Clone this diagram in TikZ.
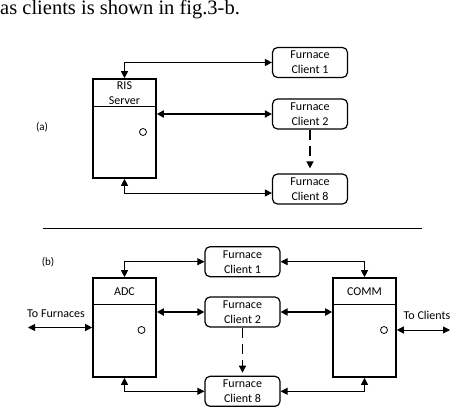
\documentclass[tikz,border=0pt]{standalone}
\usepackage{fontspec}
\setmainfont{Liberation Serif}
\newfontfamily\diafont{Carlito}
\usetikzlibrary{arrows.meta}
\begin{document}
\begin{tikzpicture}[x=1pt,y=-1pt,
  txt/.style={font=\diafont\fontsize{12}{15}\selectfont, inner sep=0pt, align=center},
  client/.style={txt, draw, rounded corners=5pt, line width=1.2pt, minimum width=75pt, minimum height=30pt},
  unit/.style={draw, line width=1.6pt, minimum width=63pt, minimum height=99pt, inner sep=0pt},
  divider/.style={line width=1pt},
  port/.style={circle, draw, line width=0.8pt, minimum size=7pt, inner sep=0pt},
  link/.style={line width=0.9pt, {Triangle[length=7pt,width=7pt]}-{Triangle[length=7pt,width=7pt]}},
  biglink/.style={link, line width=2.4pt},
  dashlink/.style={line width=1.4pt, dash pattern=on 10pt off 6pt, -{Triangle[length=7pt,width=7pt]}},
  lbl/.style={font=\diafont\fontsize{11}{13}\selectfont, inner sep=0pt}
]
\useasboundingbox (0,0) rectangle (452,409);

% caption line
\node[anchor=base west, inner sep=0pt, font=\fontsize{20.5}{24}\selectfont] (cap) at (0,15) {as clients is shown in fig.3-b.};

% ---------- panel (a) ----------
\node[lbl] (la) at (42,127) {(a)};
\node[unit] (srv) at (124.5,128.5) {};
\draw[divider] (srv.north west) ++(0,28) -- ++(63,0);
\node[txt] (srvt) at (124.5,93.5) {RIS\\Server};
\node[port] (pa) at (143,132) {};

\node[client] (c1a) at (310,62.5) {Furnace\\Client 1};
\node[client] (c2a) at (310,114) {Furnace\\Client 2};
\node[client] (c8a) at (310,189) {Furnace\\Client 8};

\draw[link] (srv.north) |- (c1a.west);
\draw[biglink] (srv.east |- c2a.west) -- (c2a.west);
\draw[link] (srv.south) |- ([yshift=-4pt]c8a.west);
\draw[dashlink, shorten >=5pt] (c2a.south) -- (c8a.north);

% separator
\draw[line width=1pt] (43,228) -- (422,228);

% ---------- panel (b) ----------
\node[lbl] (lb) at (48,262) {(b)};
\node[unit] (adc) at (124.5,327.5) {};
\draw[divider] (adc.north west) ++(0,27.5) -- ++(63,0);
\node[txt] (adct) at (124.5,292) {ADC};
\node[port] (pb) at (141.5,330) {};

\node[unit] (comm) at (364.5,327.5) {};
\draw[divider] (comm.north west) ++(0,27) -- ++(63,0);
\node[txt] (commt) at (364.5,292) {COMM};
\node[port] (pc) at (384,330) {};

\node[client] (c1b) at (242.5,261.7) {Furnace\\Client 1};
\node[client] (c2b) at (242.5,312) {Furnace\\Client 2};
\node[client] (c8b) at (242.5,391.3) {Furnace\\Client 8};

\node[txt] (tf) at (56,314) {To Furnaces};
\node[txt] (tc) at (427,315) {To Clients};
\coordinate (lf) at (28,327.5);
\coordinate (rc) at (450,330);

\draw[link] (lf) -- (adc.west);
\draw[link] (comm.east |- rc) -- (rc);
\draw[link] (adc.north) |- (c1b.west);
\draw[link] (comm.north) |- (c1b.east);
\draw[biglink] (adc.east |- c2b.west) -- (c2b.west);
\draw[biglink] (c2b.east) -- (comm.west |- c2b.east);
\draw[link] (adc.south) |- (c8b.west);
\draw[link] (comm.south) |- (c8b.east);
\draw[dashlink, shorten >=3pt] (c2b.south) -- (c8b.north);
\end{tikzpicture}
\end{document}
